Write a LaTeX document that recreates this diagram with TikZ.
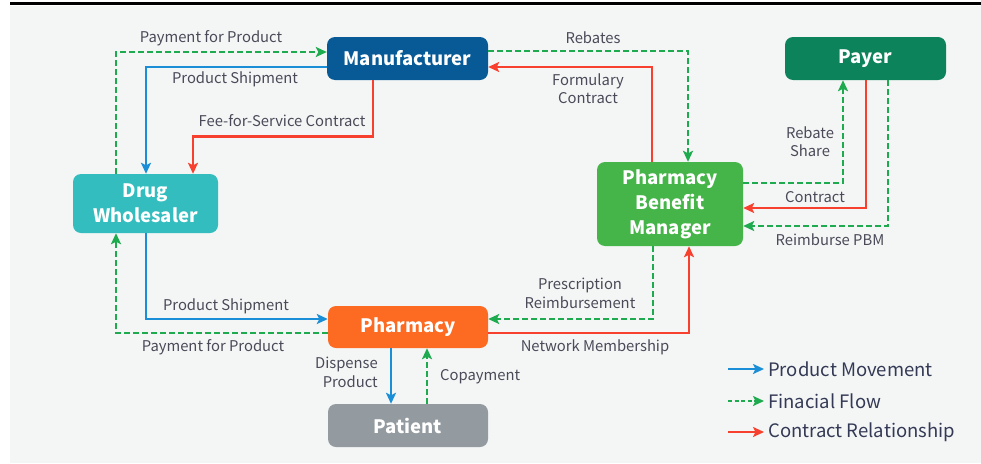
\documentclass[tikz,border=0pt]{standalone}
\usepackage{fontspec}
\setmainfont{Noto Sans CJK KR}
\usetikzlibrary{calc,arrows.meta}
\definecolor{bgc}{HTML}{F4F6F6}
\definecolor{mancol}{HTML}{075A96}
\definecolor{payercol}{HTML}{0C835A}
\definecolor{wholecol}{HTML}{33BDBF}
\definecolor{pbmcol}{HTML}{46B549}
\definecolor{pharmcol}{HTML}{FD6A21}
\definecolor{patcol}{HTML}{939BA0}
\definecolor{bluel}{HTML}{1A8FD8}
\definecolor{greenl}{HTML}{1EAA4E}
\definecolor{redl}{HTML}{F7402E}
\definecolor{labcol}{HTML}{4A4A58}
\definecolor{legcol}{HTML}{343A55}
\tikzset{
  box/.style={rounded corners=8pt, inner sep=0pt, text=white, align=center,
    font=\fontsize{18.5}{25}\selectfont\bfseries},
  lab/.style={inner sep=0pt, text=labcol, align=center, font=\fontsize{14.8}{18.5}\selectfont},
  leg/.style={inner sep=0pt, text=legcol, anchor=west, font=\fontsize{18.5}{22}\selectfont},
  tip/.style={-{Stealth[length=11pt,width=10pt,inset=2.5pt]}},
  prod/.style={tip, draw=bluel, line width=2.6pt},
  fin/.style={tip, draw=greenl, line width=2.6pt, dash pattern=on 5.5pt off 3.5pt},
  con/.style={tip, draw=redl, line width=2.6pt},
}
\begin{document}
\begin{tikzpicture}[x=1pt,y=-1pt]
\useasboundingbox (0,0) rectangle (981,463);
\fill[bgc] (10,6) rectangle (981,463);
\fill[black] (10,1.5) rectangle (981,4.5);

\node[box, fill=mancol, minimum width=161pt, minimum height=43pt] (man) at (407.5,58.5) {Manufacturer};
\node[box, fill=payercol, minimum width=161pt, minimum height=43pt] (payer) at (865.5,58.5) {Payer};
\node[box, fill=wholecol, minimum width=145pt, minimum height=59pt] (whole) at (145.5,203.5) {Drug\\Wholesaler};
\node[box, fill=pbmcol, minimum width=146pt, minimum height=84pt] (pbm) at (670,204) {Pharmacy\\Benefit\\Manager};
\node[box, fill=pharmcol, minimum width=160pt, minimum height=42pt] (pharm) at (408,327) {Pharmacy};
\node[box, fill=patcol, minimum width=160pt, minimum height=43pt] (pat) at (408,425.5) {Patient};

% connectors
\draw[fin] ($(whole.north)+(-29.5,0)$) |- ($(man.west)+(0,-6.5)$);
\draw[prod] ($(man.west)+(0,8.5)$) -| ($(whole.north)+(0.5,0)$);
\draw[con] ($(man.south)+(-34.5,0)$) -- ++(0,56) -| ($(whole.north)+(47.5,0)$);
\draw[fin] ($(man.east)+(0,-7.5)$) -| ($(pbm.north)+(18,0)$);
\draw[con] ($(pbm.north)+(-18,0)$) |- ($(man.east)+(0,8.5)$);
\draw[fin] ($(pbm.east)+(0,-21)$) -| ($(payer.south)+(-22.5,0)$);
\draw[con] ($(payer.south)+(0.5,0)$) |- ($(pbm.east)+(0,4)$);
\draw[fin] ($(payer.south)+(22.5,0)$) |- ($(pbm.east)+(0,22)$);
\draw[prod] ($(whole.south)+(0.5,0)$) |- ($(pharm.west)+(0,-8)$);
\draw[fin] ($(pharm.west)+(0,6)$) -| ($(whole.south)+(-29.5,0)$);
\draw[fin] ($(pbm.south)+(-17,0)$) |- ($(pharm.east)+(0,-8)$);
\draw[con] ($(pharm.east)+(0,6)$) -| ($(pbm.south)+(19,0)$);
\draw[prod] ($(pharm.south)+(-17,0)$) -- ($(pat.north)+(-17,0)$);
\draw[fin] ($(pat.north)+(19,0)$) -- ($(pharm.south)+(19,0)$);

% labels
\node[lab] (l1) at (211,38) {Payment for Product};
\node[lab] (l2) at (235,79) {Product Shipment};
\node[lab] (l3) at (282,121) {Fee-for-Service Contract};
\node[lab] (l4) at (593,38) {Rebates};
\node[lab] (l5) at (588,88.5) {Formulary\\Contract};
\node[lab] (l6) at (810,141.5) {Rebate\\Share};
\node[lab] (l7) at (815,197) {Contract};
\node[lab] (l8) at (830,240) {Reimburse PBM};
\node[lab] (l9) at (226,306) {Product Shipment};
\node[lab] (l10) at (213,347) {Payment for Product};
\node[lab] (l11) at (580,293.5) {Prescription\\Reimbursement};
\node[lab] (l12) at (595,347) {Network Membership};
\node[lab, align=right, anchor=east] (l13) at (378,372.5) {Dispense\\Product};
\node[lab, anchor=west] (l14) at (440,377) {Copayment};

% legend
\coordinate (g1a) at (728,369); \coordinate (g1b) at (764,369);
\coordinate (g2a) at (728,401); \coordinate (g2b) at (764,401);
\coordinate (g3a) at (728,432); \coordinate (g3b) at (764,432);
\draw[prod] (g1a) -- (g1b);
\draw[fin, dash pattern=on 4pt off 2.5pt] (g2a) -- (g2b);
\draw[con] (g3a) -- (g3b);
\node[leg] (t1) at (768,369) {Product Movement};
\node[leg] (t2) at (768,401) {Finacial Flow};
\node[leg] (t3) at (768,432) {Contract Relationship};
\end{tikzpicture}
\end{document}
